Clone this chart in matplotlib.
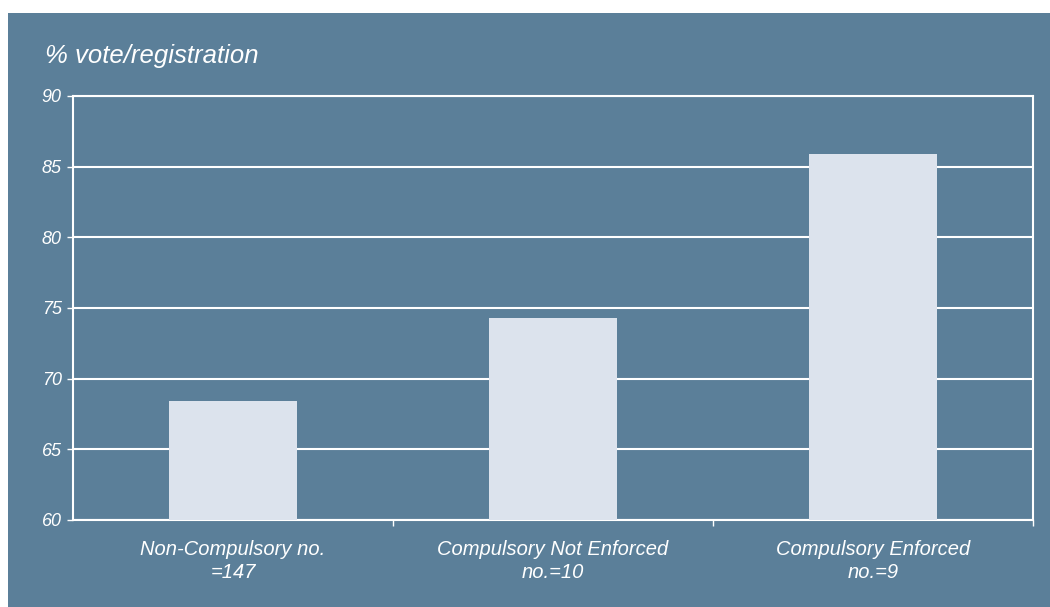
import matplotlib
matplotlib.use("Agg")
import matplotlib.pyplot as plt
from matplotlib.patches import Rectangle

categories = ["Non-Compulsory no.\n=147", "Compulsory Not Enforced\nno.=10", "Compulsory Enforced\nno.=9"]
values = [68.4, 74.3, 85.9]
yticks = [60, 65, 70, 75, 80, 85, 90]
ylabel = "% vote/registration"

BG = "#5b7f99"
BAR = "#dce3ed"
FONT = "Liberation Sans"

W, H = 1050, 607
fig = plt.figure(figsize=(W / 100, H / 100), dpi=100, facecolor="white")
fig.patches.append(Rectangle((8 / W, 0), 1 - 8 / W, 1 - 13 / H, transform=fig.transFigure,
                             facecolor=BG, edgecolor="none", zorder=-5))

ax = fig.add_axes([73 / W, 1 - 520 / H, (1033 - 73) / W, (520 - 96) / H])
ax.set_facecolor(BG)
x = list(range(len(categories)))
ax.bar(x, values, width=0.4, color=BAR, zorder=3)
ax.set_xlim(-0.5, 2.5)
ax.set_ylim(60, 90)
ax.set_yticks(yticks)
ax.set_yticklabels([str(t) for t in yticks], fontstyle="italic", family=FONT, fontsize=13, color="white")
ax.yaxis.grid(True, color="white", linewidth=1.5, zorder=1)
ax.set_axisbelow(True)

ax.set_xticks([0.5, 1.5, 2.5])
ax.set_xticklabels([])
ax.set_xticks(x, minor=True)
ax.set_xticklabels(categories, minor=True, fontstyle="italic", family=FONT, fontsize=14.5,
                   color="white", linespacing=1.25)
ax.tick_params(axis="x", which="minor", length=0, pad=14.5)
ax.tick_params(axis="x", which="major", length=4, color="white", width=1)
ax.tick_params(axis="y", length=4.5, color="white", width=1, pad=3.5)

for side in ["left", "right", "bottom", "top"]:
    ax.spines[side].set_color("white")
    ax.spines[side].set_linewidth(1.5)

fig.text(45 / W, 1 - 63 / H, ylabel, fontstyle="italic", family=FONT, fontsize=18.5,
         color="white", ha="left", va="baseline")

fig.savefig("out.png", dpi=100, facecolor="white")
